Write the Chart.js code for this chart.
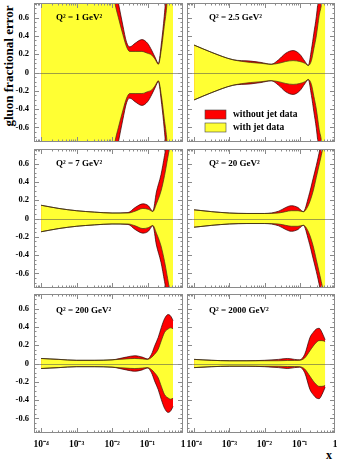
<!DOCTYPE html>
<html><head><meta charset="utf-8">
<script src="https://cdn.jsdelivr.net/npm/chart.js@4/dist/chart.umd.min.js"></script>
<style>
html,body{margin:0;padding:0;background:#fff;width:337px;height:465px;overflow:hidden;position:relative}
canvas{position:absolute}
.t{position:absolute;font-family:"Liberation Serif","Times New Roman",serif;font-weight:bold;color:#000;white-space:nowrap;line-height:1}
#ytitle{font-size:13px;left:8px;top:66px;transform:translate(-50%,-50%) rotate(-90deg)}
#xtitle{font-size:12px;left:326px;top:449px}
</style></head><body>
<div class="t" id="ytitle">gluon fractional error</div>
<div class="t" id="xtitle">x</div>
<canvas id="c1" width="186" height="145" style="left:0;top:0"></canvas>
<canvas id="c2" width="151" height="145" style="left:186px;top:0"></canvas>
<canvas id="c3" width="186" height="145" style="left:0;top:146px"></canvas>
<canvas id="c4" width="151" height="145" style="left:186px;top:146px"></canvas>
<canvas id="c5" width="186" height="175" style="left:0;top:290px"></canvas>
<canvas id="c6" width="151" height="175" style="left:186px;top:290px"></canvas>
<script>
// ---- data ----
const panelTitles = ['Q² = 1 GeV²', 'Q² = 2.5 GeV²', 'Q² = 7 GeV²', 'Q² = 20 GeV²', 'Q² = 200 GeV²', 'Q² = 2000 GeV²'];
const legendLabels = ['without jet data', 'with jet data'];
const yTickVals = [-0.6, -0.4, -0.2, 0, 0.2, 0.4, 0.6];
const yTickLabels = ['-0.6', '-0.4', '-0.2', '0', '0.2', '0.4', '0.6'];
const xTickVals = [1e-4, 1e-3, 1e-2, 1e-1, 1];
const xTickLabels = ['10⁻⁴', '10⁻³', '10⁻²', '10⁻¹', '1'];

// Q2 = 1
const x1   = [0.0001, 0.001, 0.00398, 0.00794, 0.0120, 0.0151, 0.0200, 0.0257, 0.0316, 0.0447, 0.0692, 0.1, 0.132, 0.166, 0.202, 0.251, 0.295, 0.355, 0.417, 0.525];
const red1 = [6, 4, 2.2, 1.3, 0.95, 0.76, 0.52, 0.33, 0.28, 0.32, 0.36, 0.32, 0.24, 0.16, 0.10, 0.35, 0.61, 1.0, 1.5, 2.5];
const yel1 = [6, 4, 2.2, 1.2, 0.76, 0.6, 0.42, 0.28, 0.23, 0.23, 0.23, 0.21, 0.19, 0.14, 0.09, 0.28, 0.5, 0.76, 1.2, 2.5];
// Q2 = 2.5
const x2   = [0.0001, 0.000316, 0.00126, 0.00398, 0.00794, 0.0155, 0.0251, 0.0398, 0.0646, 0.1, 0.141, 0.174, 0.214, 0.251, 0.295, 0.355, 0.417, 0.525];
const red2 = [0.30, 0.22, 0.14, 0.125, 0.11, 0.09, 0.14, 0.21, 0.24, 0.20, 0.12, 0.077, 0.25, 0.43, 0.61, 0.9, 1.2, 1.8];
const yel2 = [0.30, 0.22, 0.14, 0.11, 0.10, 0.09, 0.10, 0.12, 0.13, 0.12, 0.10, 0.077, 0.13, 0.26, 0.40, 0.62, 0.76, 1.2];
// Q2 = 7
const x3   = [0.0001, 0.000316, 0.001, 0.00316, 0.01, 0.0282, 0.0447, 0.0741, 0.105, 0.141, 0.178, 0.240, 0.302, 0.355, 0.417, 0.525];
const red3 = [0.145, 0.11, 0.085, 0.07, 0.06, 0.065, 0.12, 0.16, 0.14, 0.08, 0.29, 0.48, 0.69, 0.85, 1.05, 1.4];
const yel3 = [0.145, 0.11, 0.085, 0.07, 0.06, 0.06, 0.08, 0.11, 0.10, 0.077, 0.16, 0.30, 0.47, 0.62, 0.78, 1.1];
// Q2 = 20
const x4   = [0.0001, 0.000316, 0.001, 0.00316, 0.01, 0.0251, 0.0398, 0.0575, 0.0891, 0.126, 0.178, 0.240, 0.295, 0.372, 0.447, 0.525];
const red4 = [0.095, 0.075, 0.06, 0.055, 0.055, 0.08, 0.12, 0.14, 0.12, 0.075, 0.24, 0.44, 0.58, 0.76, 0.95, 1.15];
const yel4 = [0.095, 0.075, 0.06, 0.055, 0.055, 0.06, 0.075, 0.085, 0.085, 0.074, 0.15, 0.30, 0.45, 0.62, 0.76, 0.9];
// Q2 = 200
const x5   = [0.0001, 0.000316, 0.001, 0.00316, 0.01, 0.0251, 0.0437, 0.0708, 0.1, 0.129, 0.158, 0.200, 0.245, 0.302, 0.380, 0.447, 0.525];
const red5 = [0.055, 0.045, 0.035, 0.035, 0.04, 0.07, 0.085, 0.07, 0.05, 0.10, 0.19, 0.285, 0.395, 0.49, 0.535, 0.52, 0.47];
const yel5 = [0.055, 0.045, 0.035, 0.035, 0.04, 0.05, 0.055, 0.05, 0.045, 0.066, 0.10, 0.157, 0.25, 0.34, 0.377, 0.39, 0.38];
// Q2 = 2000
const x6   = [0.0001, 0.000316, 0.001, 0.00316, 0.01, 0.0251, 0.0447, 0.0708, 0.1, 0.138, 0.195, 0.240, 0.295, 0.355, 0.427, 0.525];
const red6 = [0.045, 0.035, 0.03, 0.03, 0.035, 0.045, 0.055, 0.045, 0.04, 0.10, 0.285, 0.34, 0.377, 0.385, 0.34, 0.26];
const yel6 = [0.045, 0.035, 0.03, 0.03, 0.03, 0.03, 0.033, 0.033, 0.035, 0.06, 0.14, 0.19, 0.23, 0.25, 0.25, 0.24];

// ---- styling ----
const X_MIN = 6.3e-5, X_MAX = 1, Y_MIN = -0.76, Y_MAX = 0.76;
const RED = '#ff0000', YEL = '#ffff33';
const FONT = '"Liberation Serif", "Times New Roman", serif';

const panelPlugin = {
  id: 'panel',
  afterDatasetsDraw(chart, args, opts) {
    const {ctx, chartArea: ca, scales: {x, y}} = chart;
    ctx.save();
    // zero line
    const y0 = Math.round(y.getPixelForValue(0)) + 0.5;
    ctx.strokeStyle = 'rgba(80,80,80,0.55)';
    ctx.lineWidth = 1;
    ctx.beginPath(); ctx.moveTo(ca.left, y0); ctx.lineTo(ca.right, y0); ctx.stroke();
    // frame
    ctx.strokeStyle = '#8a8a8a';
    ctx.strokeRect(ca.left + 0.5, ca.top + 0.5, ca.right - ca.left - 1, ca.bottom - ca.top - 1);
    ctx.beginPath();
    for (let k = -15; k <= 15; k++) {
      const v = k * 0.05;
      const len = (k % 4 === 0) ? 5 : 2.5;
      const py = Math.round(y.getPixelForValue(v)) + 0.5;
      if (py <= ca.top + 1 || py >= ca.bottom - 1) continue;
      ctx.moveTo(ca.left, py); ctx.lineTo(ca.left + len, py);
      ctx.moveTo(ca.right, py); ctx.lineTo(ca.right - len, py);
    }
    for (let d = -5; d <= 0; d++) {
      for (let m = 1; m <= 9; m++) {
        const v = m * Math.pow(10, d);
        if (v < X_MIN || v > X_MAX) continue;
        const len = m === 1 ? 5 : 2.5;
        const px = Math.round(x.getPixelForValue(v)) + 0.5;
        if (px <= ca.left + 1 || px >= ca.right - 1) continue;
        ctx.moveTo(px, ca.top); ctx.lineTo(px, ca.top + len);
        ctx.moveTo(px, ca.bottom); ctx.lineTo(px, ca.bottom - len);
      }
    }
    ctx.stroke();
    // panel title
    ctx.fillStyle = '#000';
    ctx.font = 'bold 9px ' + FONT;
    ctx.textBaseline = 'middle';
    ctx.textAlign = 'left';
    ctx.fillText(opts.title, ca.left + 22, ca.top + opts.titleDy);
    if (opts.legend) {
      ctx.lineWidth = 0.6;
      ctx.strokeStyle = '#444';
      ctx.fillStyle = RED;
      ctx.fillRect(ca.left + 18, ca.top + 107, 21, 9);
      ctx.strokeRect(ca.left + 18, ca.top + 107, 21, 9);
      ctx.fillStyle = YEL;
      ctx.fillRect(ca.left + 18, ca.top + 120, 21, 9);
      ctx.strokeRect(ca.left + 18, ca.top + 120, 21, 9);
      ctx.fillStyle = '#000';
      ctx.font = 'bold 9.5px ' + FONT;
      ctx.fillText(legendLabels[0], ca.left + 46, ca.top + 111.5);
      ctx.fillText(legendLabels[1], ca.left + 46, ca.top + 124.5);
    }
    ctx.restore();
  }
};

function makeChart(id, xs, red, yel, title, col, row) {
  const isLeft = col === 0, isBottom = row === 2;
  const toPts = arr => arr.map((v, i) => ({x: xs[i], y: v}));
  const base = {pointRadius: 0, pointHoverRadius: 0, cubicInterpolationMode: 'monotone', clip: 0, borderWidth: 0.7};
  const datasets = [
    {...base, label: legendLabels[1], data: toPts(yel), fill: '+1', backgroundColor: YEL, borderColor: '#3c3c14'},
    {...base, label: legendLabels[1] + ' (lower)', data: toPts(yel.map(v => -v)), fill: false, borderColor: '#3c3c14'},
    {...base, label: legendLabels[0], data: toPts(red), fill: '+1', backgroundColor: RED, borderColor: '#2a0000'},
    {...base, label: legendLabels[0] + ' (lower)', data: toPts(red.map(v => -v)), fill: false, borderColor: '#2a0000'}
  ];
  const padding = {
    left: isLeft ? 0 : 1,
    right: isLeft ? 3 : 2,
    top: isBottom ? 4 : 3,
    bottom: isBottom ? 0 : 3
  };
  new Chart(document.getElementById(id), {
    type: 'line',
    data: {datasets},
    options: {
      responsive: false,
      animation: false,
      events: [],
      layout: {autoPadding: false, padding},
      elements: {line: {capBezierPoints: false}},
      plugins: {
        legend: {display: false},
        tooltip: {enabled: false},
        filler: {drawTime: 'beforeDatasetsDraw'},
        panel: {title, titleDy: isBottom ? 17 : 14.5, legend: (col === 1 && row === 0)}
      },
      scales: {
        x: {
          type: 'logarithmic', min: X_MIN, max: X_MAX, display: isBottom,
          grid: {display: false, drawTicks: false}, border: {display: false},
          ticks: {autoSkip: false, maxRotation: 0, minRotation: 0, padding: 6, color: '#000',
                  font: {family: FONT, size: 9.5, weight: 'bold'},
                  callback: (v, i) => xTickLabels[i]},
          afterBuildTicks: s => { s.ticks = xTickVals.map(v => ({value: v})); },
          afterFit: s => { s.height = isBottom ? 32 : 0; s.paddingLeft = 0; s.paddingRight = 0; s.paddingTop = 0; s.paddingBottom = 0; }
        },
        y: {
          type: 'linear', min: Y_MIN, max: Y_MAX, display: isLeft,
          grid: {display: false, drawTicks: false}, border: {display: false},
          ticks: {autoSkip: false, padding: 5, color: '#000',
                  font: {family: FONT, size: 8.5, weight: 'bold'},
                  callback: (v, i) => yTickLabels[i]},
          afterBuildTicks: s => { s.ticks = yTickVals.map(v => ({value: v})); },
          afterFit: s => { s.width = isLeft ? 34 : 0; s.paddingLeft = 0; s.paddingRight = 0; s.paddingTop = 0; s.paddingBottom = 0; }
        }
      }
    },
    plugins: [panelPlugin]
  });
}

makeChart('c1', x1, red1, yel1, panelTitles[0], 0, 0);
makeChart('c2', x2, red2, yel2, panelTitles[1], 1, 0);
makeChart('c3', x3, red3, yel3, panelTitles[2], 0, 1);
makeChart('c4', x4, red4, yel4, panelTitles[3], 1, 1);
makeChart('c5', x5, red5, yel5, panelTitles[4], 0, 2);
makeChart('c6', x6, red6, yel6, panelTitles[5], 1, 2);
</script>
</body></html>
